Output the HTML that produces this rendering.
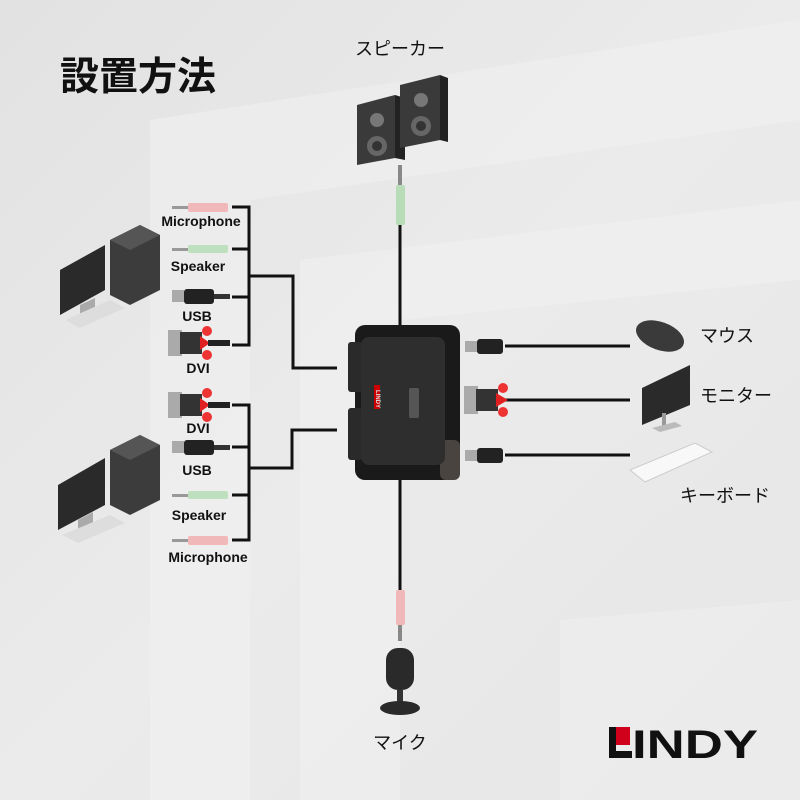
<!DOCTYPE html>
<html><head><meta charset="utf-8"><style>
html,body{margin:0;padding:0;width:800px;height:800px;overflow:hidden;background:#e8e8e8}
svg{display:block}
text{font-family:"Liberation Sans","Noto Sans CJK JP",sans-serif}
</style></head><body>
<svg width="800" height="800" viewBox="0 0 800 800" xmlns="http://www.w3.org/2000/svg">
<defs>
<linearGradient id="bg" x1="0" y1="0" x2="1" y2="1">
<stop offset="0" stop-color="#e2e2e2"/><stop offset="0.5" stop-color="#ebebeb"/><stop offset="1" stop-color="#e6e6e6"/>
</linearGradient>
</defs>
<rect width="800" height="800" fill="url(#bg)"/>
<polygon points="150,800 150,120 800,20 800,120 250,200 250,800" fill="#f0f0f0" opacity="0.6"/>
<polygon points="300,800 300,260 800,200 800,280 400,320 400,800" fill="#f2f2f2" opacity="0.5"/>
<polygon points="560,800 560,620 800,600 800,800" fill="#efefef" opacity="0.5"/>

<text x="60" y="90" font-size="39" font-weight="bold" fill="#111">設置方法</text>

<!-- speakers -->
<text x="400" y="55" font-size="18" text-anchor="middle" fill="#111">スピーカー</text>
<polygon points="357,105 395,95 395,158 357,165" fill="#3a3a3a"/>
<polygon points="395,95 405,98 405,160 395,158" fill="#222"/>
<circle cx="377" cy="120" r="7" fill="#777"/><circle cx="377" cy="146" r="10" fill="#666"/><circle cx="377" cy="146" r="5" fill="#333"/>
<polygon points="400,85 440,75 440,140 400,148" fill="#3a3a3a"/>
<polygon points="440,75 448,78 448,142 440,140" fill="#222"/>
<circle cx="421" cy="100" r="7" fill="#777"/><circle cx="421" cy="126" r="10" fill="#666"/><circle cx="421" cy="126" r="5" fill="#333"/>
<rect x="398" y="165" width="4" height="20" fill="#888"/>
<rect x="396" y="185" width="9" height="40" rx="2" fill="#b8dcb8"/>
<line x1="400" y1="225" x2="400" y2="325" stroke="#111" stroke-width="3"/>

<!-- left brackets -->
<g stroke="#111" stroke-width="3" fill="none">
<polyline points="232,207 249,207 249,345 232,345"/>
<line x1="232" y1="249" x2="249" y2="249"/><line x1="232" y1="297" x2="249" y2="297"/>
<polyline points="249,276 293,276 293,368 337,368"/>
<polyline points="232,405 249,405 249,540 232,540"/>
<line x1="232" y1="447" x2="249" y2="447"/><line x1="232" y1="495" x2="249" y2="495"/>
<polyline points="249,468 292,468 292,430 337,430"/>
</g>
<!-- jacks -->
<g>
<rect x="172" y="206" width="16" height="3" fill="#999"/><rect x="188" y="203" width="40" height="9" rx="2" fill="#f0b8b8"/>
<rect x="172" y="248" width="16" height="3" fill="#999"/><rect x="188" y="245" width="40" height="8" rx="2" fill="#bfe0bf"/>
<rect x="172" y="290" width="12" height="12" fill="#aaa"/><rect x="184" y="289" width="30" height="15" rx="3" fill="#222"/><rect x="214" y="294" width="16" height="5" fill="#333"/>
<rect x="168" y="330" width="14" height="26" fill="#aaa"/><rect x="180" y="332" width="22" height="22" fill="#333"/><polygon points="200,336 210,343 200,350" fill="#e02020"/><rect x="208" y="340" width="22" height="6" fill="#222"/><circle cx="207" cy="331" r="5" fill="#e33"/><circle cx="207" cy="355" r="5" fill="#e33"/>
<rect x="168" y="392" width="14" height="26" fill="#aaa"/><rect x="180" y="394" width="22" height="22" fill="#333"/><polygon points="200,398 210,405 200,412" fill="#e02020"/><rect x="208" y="402" width="22" height="6" fill="#222"/><circle cx="207" cy="393" r="5" fill="#e33"/><circle cx="207" cy="417" r="5" fill="#e33"/>
<rect x="172" y="441" width="12" height="12" fill="#aaa"/><rect x="184" y="440" width="30" height="15" rx="3" fill="#222"/><rect x="214" y="445" width="16" height="5" fill="#333"/>
<rect x="172" y="494" width="16" height="3" fill="#999"/><rect x="188" y="491" width="40" height="8" rx="2" fill="#bfe0bf"/>
<rect x="172" y="539" width="16" height="3" fill="#999"/><rect x="188" y="536" width="40" height="9" rx="2" fill="#f0b8b8"/>
</g>
<g font-size="14" font-weight="bold" fill="#111" text-anchor="middle">
<text x="201" y="226">Microphone</text><text x="198" y="271">Speaker</text><text x="197" y="321">USB</text><text x="198" y="373">DVI</text>
<text x="198" y="433">DVI</text><text x="197" y="475">USB</text><text x="199" y="520">Speaker</text><text x="208" y="562">Microphone</text>
</g>

<!-- computers -->
<g>
<polygon points="110,240 140,225 160,235 160,290 130,305 110,295" fill="#3c3c3c"/><polygon points="110,240 140,225 160,235 130,250" fill="#555"/>
<polygon points="60,270 105,245 105,290 60,315" fill="#2a2a2a"/><polygon points="80,305 95,298 95,310 80,318" fill="#aaa"/>
<polygon points="65,320 110,300 125,308 80,328" fill="#ddd"/>
<polygon points="110,450 140,435 160,445 160,500 130,515 110,505" fill="#3c3c3c"/><polygon points="110,450 140,435 160,445 130,460" fill="#555"/>
<polygon points="58,485 105,458 105,505 58,530" fill="#2a2a2a"/><polygon points="78,520 93,512 93,524 78,532" fill="#aaa"/>
<polygon points="62,535 110,515 125,523 78,543" fill="#ddd"/>
</g>

<!-- box -->
<rect x="355" y="325" width="105" height="155" rx="10" fill="#1a1a1a"/>
<rect x="440" y="440" width="20" height="40" rx="6" fill="#4a4440"/>
<rect x="348" y="342" width="14" height="50" rx="3" fill="#2a2a2a"/>
<rect x="348" y="408" width="14" height="52" rx="3" fill="#2a2a2a"/>
<rect x="361" y="337" width="84" height="128" rx="8" fill="#2e2e2e"/>
<rect x="409" y="388" width="10" height="30" rx="2" fill="#555"/>
<rect x="374" y="385" width="6" height="24" fill="#c00"/>
<text x="0" y="0" font-size="6" font-weight="bold" fill="#ddd" transform="translate(376,390) rotate(90)">LINDY</text>

<!-- right side -->
<g stroke="#111" stroke-width="3">
<line x1="505" y1="346" x2="630" y2="346"/><line x1="505" y1="400" x2="630" y2="400"/><line x1="505" y1="455" x2="630" y2="455"/>
<line x1="400" y1="480" x2="400" y2="590"/>
</g>
<rect x="465" y="341" width="12" height="11" fill="#aaa"/><rect x="477" y="339" width="26" height="15" rx="3" fill="#222"/>
<rect x="465" y="450" width="12" height="11" fill="#aaa"/><rect x="477" y="448" width="26" height="15" rx="3" fill="#222"/>
<rect x="464" y="386" width="14" height="28" fill="#aaa"/><rect x="476" y="389" width="22" height="22" fill="#333"/><polygon points="496,393 508,400 496,407" fill="#e02020"/><circle cx="503" cy="388" r="5" fill="#e33"/><circle cx="503" cy="412" r="5" fill="#e33"/>
<ellipse cx="660" cy="336" rx="25" ry="14" fill="#3a3a3a" transform="rotate(20 660 336)"/>
<polygon points="642,388 690,365 690,405 642,425" fill="#2a2a2a"/><rect x="662" y="413" width="4" height="14" fill="#999"/><polygon points="652,428 675,422 682,426 660,432" fill="#bbb"/>
<polygon points="630,470 695,443 712,452 645,482" fill="#f8f8f8" stroke="#ccc"/>
<g font-size="18" fill="#111">
<text x="700" y="342">マウス</text><text x="700" y="402">モニター</text><text x="680" y="502">キーボード</text>
<text x="400" y="749" text-anchor="middle">マイク</text>
</g>

<!-- mic -->
<rect x="396" y="590" width="9" height="35" rx="2" fill="#f0b8b8"/><rect x="398" y="625" width="4" height="16" fill="#888"/>
<rect x="386" y="648" width="28" height="42" rx="12" fill="#2a2a2a"/>
<rect x="397" y="690" width="6" height="12" fill="#333"/>
<ellipse cx="400" cy="708" rx="20" ry="7" fill="#2a2a2a"/>

<!-- logo -->
<polygon points="609,727 616,727 616,751 632,751 632,758 609,758" fill="#111"/>
<rect x="616" y="727" width="14" height="18" fill="#d0021b"/>
<text x="632" y="758" font-size="40" font-weight="bold" fill="#111" textLength="126" lengthAdjust="spacingAndGlyphs">INDY</text>
</svg>
</body></html>
